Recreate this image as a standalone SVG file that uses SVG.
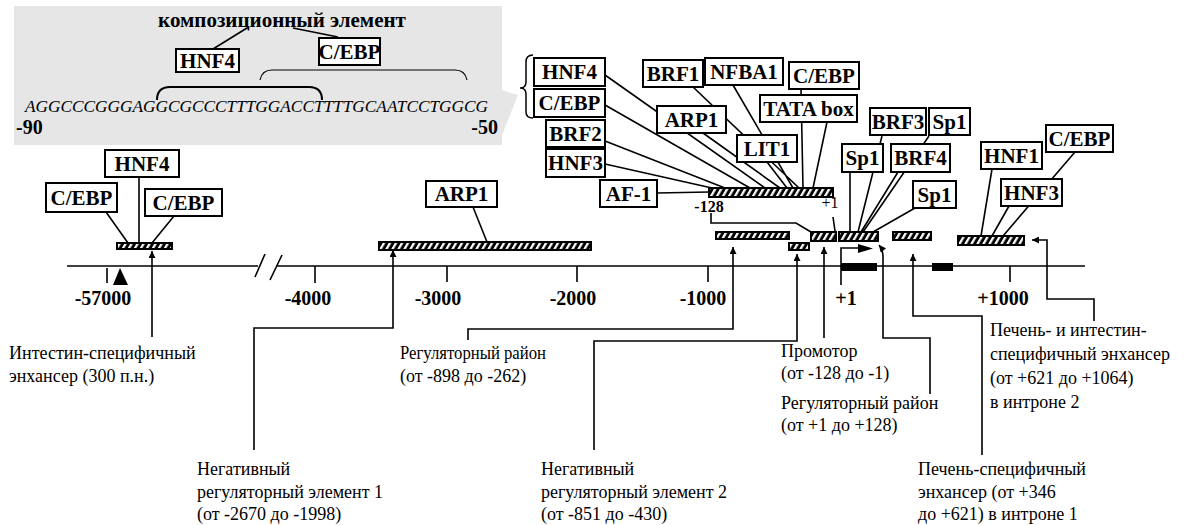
<svg xmlns="http://www.w3.org/2000/svg" width="1202" height="525" viewBox="0 0 1202 525">
<style>
.bx{fill:#fff;stroke:#000;stroke-width:2}
.lb{font-family:"Liberation Serif",serif;font-weight:bold;font-size:21px;text-anchor:middle;fill:#000}
.ax{font-family:"Liberation Serif",serif;font-weight:bold;font-size:20px;text-anchor:middle;fill:#000}
.tx{font-family:"Liberation Serif",serif;font-size:18px;fill:#000}
.seq{font-family:"Liberation Serif",serif;font-style:italic;font-size:17px;fill:#000}
.bar{fill:url(#hatch);stroke:#000;stroke-width:2}
.ln{fill:none;stroke:#000;stroke-width:1.6}
.ar{fill:none;stroke:#000;stroke-width:1.6;marker-end:url(#ah)}
</style>
<defs>
<pattern id="hatch" width="6" height="12" patternUnits="userSpaceOnUse" patternTransform="skewX(-30)">
<rect width="6" height="12" fill="#000"/>
<rect x="1" y="0" width="2.6" height="12" fill="#fff"/>
</pattern>
<marker id="ah" viewBox="0 0 10 10" refX="10" refY="5" markerWidth="9" markerHeight="7" orient="auto" markerUnits="userSpaceOnUse">
<path d="M0,0 L10,5 L0,10 z" fill="#000"/>
</marker>
</defs>
<rect width="1202" height="525" fill="#fff"/>

<g id="inset">
<polygon points="14,6 502,6 502,90 518,95 502,135 502,145 14,145" fill="#e6e6e6"/>
<text x="282" y="27" class="lb">композиционный элемент</text>
<path class="ln" d="M213,49 L247,28 M293,28 L338,37"/>
<path d="M157,100 Q157,87 170,87 H309 Q322,87 322,100" fill="none" stroke="#000" stroke-width="2"/>
<path d="M260,80 Q262,70 272,70 H455 Q465,70 467,80" fill="none" stroke="#000" stroke-width="1.2"/>
<rect class="bx" x="176" y="49" width="63" height="23"/>
<text x="207.5" y="68" class="lb">HNF4</text>
<rect class="bx" x="319" y="38" width="61" height="27"/>
<text x="349.5" y="59" class="lb">C/EBP</text>
<text x="25" y="112" class="seq" textLength="463" lengthAdjust="spacingAndGlyphs">AGGCCCGGGAGGCGCCCTTTGGACCTTTTGCAATCCTGGCG</text>
<text x="16" y="134" class="ax" style="text-anchor:start">-90</text>
<text x="498" y="134" class="ax" style="text-anchor:end">-50</text>
</g>

<g id="axis">
<path class="ln" d="M67,266 H258 M276,266 H1085" stroke-width="1.8"/>
<path class="ln" d="M255,277 L265,254 M270,280 L282,255"/>
<path class="ln" d="M107,268 V283 M315,266 V283 M447,266 V282 M577,266 V282 M708,266 V282 M1010,266 V282"/>
<polygon points="120,268 113,285 128,285" fill="#000"/>
<text x="103" y="305" class="ax">-57000</text>
<text x="308" y="305" class="ax">-4000</text>
<text x="438" y="305" class="ax">-3000</text>
<text x="573" y="305" class="ax">-2000</text>
<text x="703" y="305" class="ax">-1000</text>
<text x="846" y="305" class="ax">+1</text>
<text x="1003" y="305" class="ax">+1000</text>
<rect x="841" y="263" width="36" height="8" fill="#000"/>
<rect x="932" y="263" width="21" height="8" fill="#000"/>
<path class="ln" d="M841,285 V248 H860"/>
<polygon points="858,244 873,248.5 858,253" fill="#000"/>
</g>

<g id="connectors">
<path class="ln" d="M106,212 L128,243 M139,177 V243 M174,216 L152,243"/>
<path class="ln" d="M473,207 L487,242"/>
<path class="ln" d="M657,193 L709,192 M605,164 L712,188 M605,141 L725,188 M605,105 L750,188 M605,75 L765,188 M703,133 L780,188 M693,87 L799,188 M733,85 L793,188 M767,162 L787,188 M801,89 L803,188 M827,122 L813,188"/>
<path class="ln" d="M711,213 V223 H796 L811,232 M833,217 L835,231"/>
<path class="ln" d="M850,172 V232 M882,136 L858,232 M929,136 L863,232 M898,172 L861,232 M915,208 L873,232"/>
<path class="ln" d="M992,169 L981,236 M1075,152 L1003,236 M1009,206 L992,236"/>
<path class="ar" d="M152,337 V251"/>
<path class="ar" d="M254,450 V328 H393 V250"/>
<path class="ar" d="M468,340 V329 H733 V247"/>
<path class="ar" d="M594,450 V341 H797 V254"/>
<path class="ar" d="M824,338 V247"/>
<path class="ar" d="M930,394 V338 H883 V257 Q883,250 879,245"/>
<path class="ar" d="M982,455 V316 H913 V254"/>
<path class="ar" d="M1094,321 V299 H1047 V240 H1032"/>
</g>

<g id="bars">
<rect class="bar" x="117" y="243" width="55" height="6"/>
<rect class="bar" x="379" y="242" width="212" height="8"/>
<rect class="bar" x="709" y="188" width="124" height="9"/>
<rect class="bar" x="716" y="232" width="73" height="7"/>
<rect class="bar" x="789" y="243" width="20" height="7"/>
<rect class="bar" x="811" y="232" width="25" height="9"/>
<rect class="bar" x="839" y="232" width="39" height="9"/>
<rect class="bar" x="893" y="232" width="38" height="8"/>
<rect class="bar" x="958" y="236" width="66" height="9"/>
<text x="709" y="212" class="ax" style="font-size:16px">-128</text>
<text x="830" y="208" class="tx" style="font-size:16px;text-anchor:middle">+1</text>
</g>

<g id="brace">
<path d="M533,55 Q526,55 526,62 V82 Q526,88 520,88 Q526,88 526,94 V112 Q526,118 533,118" fill="none" stroke="#000" stroke-width="1.5"/>
</g>

<g id="node-left-cebp"><rect class="bx" x="46" y="183" width="71" height="29"/><text x="81.5" y="205" class="lb">C/EBP</text></g>
<g id="node-left-hnf4"><rect class="bx" x="105" y="150" width="74" height="27"/><text x="142" y="171" class="lb">HNF4</text></g>
<g id="node-left-cebp2"><rect class="bx" x="145" y="189" width="77" height="27"/><text x="183.5" y="210" class="lb">C/EBP</text></g>
<g id="node-arp1-mid"><rect class="bx" x="426" y="181" width="71" height="26"/><text x="461.5" y="201" class="lb">ARP1</text></g>

<g id="node-p-hnf4"><rect class="bx" x="534" y="58" width="71" height="28"/><text x="569.5" y="79" class="lb">HNF4</text></g>
<g id="node-p-cebp"><rect class="bx" x="534" y="89" width="71" height="28"/><text x="569.5" y="110" class="lb">C/EBP</text></g>
<g id="node-p-brf2"><rect class="bx" x="546" y="120" width="59" height="27"/><text x="575.5" y="141" class="lb">BRF2</text></g>
<g id="node-p-hnf3"><rect class="bx" x="546" y="149" width="59" height="28"/><text x="575.5" y="170" class="lb">HNF3</text></g>
<g id="node-p-af1"><rect class="bx" x="600" y="180" width="57" height="27"/><text x="628.5" y="201" class="lb">AF-1</text></g>
<g id="node-p-brf1"><rect class="bx" x="643" y="60" width="60" height="27"/><text x="673" y="81" class="lb">BRF1</text></g>
<g id="node-p-nfba1"><rect class="bx" x="705" y="58" width="78" height="27"/><text x="744" y="79" class="lb">NFBA1</text></g>
<g id="node-p-cebp2"><rect class="bx" x="789" y="62" width="70" height="27"/><text x="824" y="83" class="lb">C/EBP</text></g>
<g id="node-p-arp1"><rect class="bx" x="657" y="106" width="69" height="27"/><text x="691.5" y="127" class="lb">ARP1</text></g>
<g id="node-p-tata"><rect class="bx" x="760" y="95" width="97" height="27"/><text x="808.5" y="116" class="lb">TATA box</text></g>
<g id="node-p-lit1"><rect class="bx" x="737" y="135" width="60" height="27"/><text x="767" y="156" class="lb">LIT1</text></g>

<g id="node-brf3"><rect class="bx" x="870" y="108" width="56" height="27"/><text x="898" y="129" class="lb">BRF3</text></g>
<g id="node-sp1a"><rect class="bx" x="929" y="108" width="41" height="27"/><text x="949.5" y="129" class="lb">Sp1</text></g>
<g id="node-sp1b"><rect class="bx" x="842" y="144" width="41" height="28"/><text x="862.5" y="165" class="lb">Sp1</text></g>
<g id="node-brf4"><rect class="bx" x="891" y="144" width="59" height="28"/><text x="920.5" y="165" class="lb">BRF4</text></g>
<g id="node-sp1c"><rect class="bx" x="913" y="181" width="43" height="27"/><text x="934.5" y="202" class="lb">Sp1</text></g>

<g id="node-hnf1"><rect class="bx" x="981" y="142" width="61" height="27"/><text x="1011.5" y="163" class="lb">HNF1</text></g>
<g id="node-r-cebp"><rect class="bx" x="1046" y="125" width="67" height="27"/><text x="1079.5" y="146" class="lb">C/EBP</text></g>
<g id="node-r-hnf3"><rect class="bx" x="1001" y="179" width="61" height="27"/><text x="1031.5" y="200" class="lb">HNF3</text></g>

<g id="labels">
<text class="tx" x="9" y="359">Интестин-специфичный</text>
<text class="tx" x="9" y="382">энхансер (300 п.н.)</text>
<text class="tx" x="400" y="359" textLength="146" lengthAdjust="spacingAndGlyphs">Регуляторный район</text>
<text class="tx" x="400" y="382">(от -898 до -262)</text>
<text class="tx" x="197" y="475">Негативный</text>
<text class="tx" x="197" y="498">регуляторный элемент 1</text>
<text class="tx" x="197" y="520">(от -2670 до -1998)</text>
<text class="tx" x="541" y="475">Негативный</text>
<text class="tx" x="541" y="498">регуляторный элемент 2</text>
<text class="tx" x="541" y="520">(от -851 до -430)</text>
<text class="tx" x="781" y="357">Промотор</text>
<text class="tx" x="781" y="379">(от -128 до -1)</text>
<text class="tx" x="781" y="409">Регуляторный  район</text>
<text class="tx" x="781" y="431">(от +1 до +128)</text>
<text class="tx" x="990" y="336">Печень- и интестин-</text>
<text class="tx" x="990" y="360">специфичный энхансер</text>
<text class="tx" x="990" y="384">(от +621 до +1064)</text>
<text class="tx" x="990" y="408">в интроне 2</text>
<text class="tx" x="918" y="475">Печень-специфичный</text>
<text class="tx" x="918" y="498">энхансер (от +346</text>
<text class="tx" x="918" y="520">до +621) в интроне 1</text>
</g>
</svg>
